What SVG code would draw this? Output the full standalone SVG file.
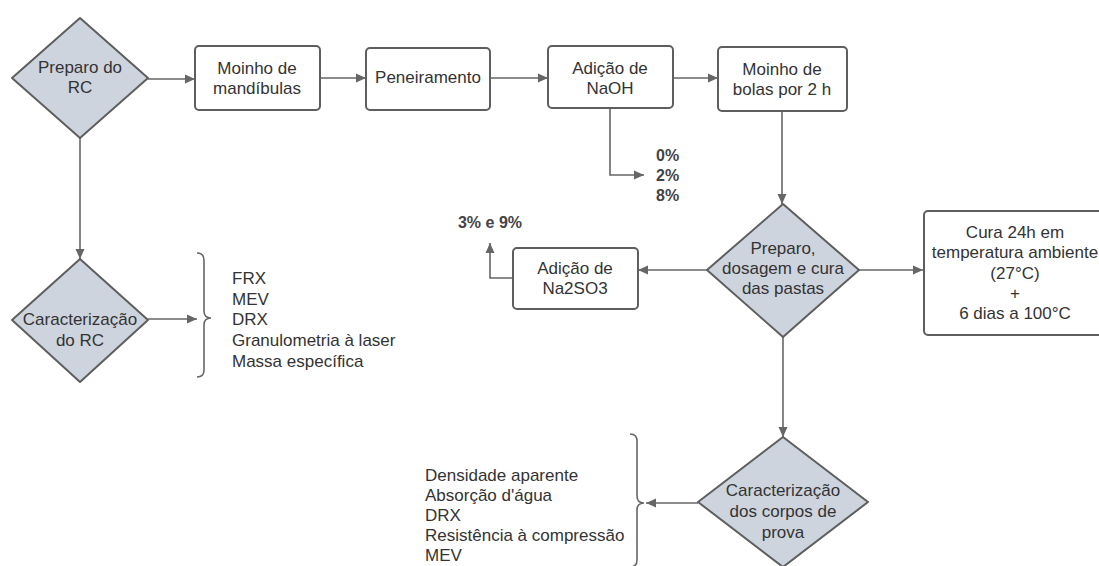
<svg xmlns="http://www.w3.org/2000/svg" width="1099" height="566" viewBox="0 0 1099 566">
<style>
.d{fill:#ced4de;stroke:#5e5e5e;stroke-width:2;stroke-linejoin:round}
.b{fill:#fff;stroke:#5e5e5e;stroke-width:2}
.t{font-family:"Liberation Sans",Arial,sans-serif;font-size:17px;fill:#333;text-anchor:middle}
.l{font-family:"Liberation Sans",Arial,sans-serif;font-size:17px;fill:#333}
.p{font-family:"Liberation Sans",Arial,sans-serif;font-size:16px;font-weight:bold;fill:#444}
.c{fill:none;stroke:#666;stroke-width:1.6}
.br{fill:none;stroke:#666;stroke-width:1.6}
</style>
<defs>
<marker id="ah" viewBox="0 0 10 10" refX="10" refY="5" markerWidth="10" markerHeight="10" markerUnits="userSpaceOnUse" orient="auto">
<path d="M0,0.5 L10,5 L0,9.5 Z" fill="#666"/>
</marker>
</defs>
<rect width="1099" height="566" fill="#fff"/>
<g id="connectors">
<path class="c" d="M148,79 L195,79" marker-end="url(#ah)"/>
<path class="c" d="M320,78 L366,78" marker-end="url(#ah)"/>
<path class="c" d="M490,78 L548,78" marker-end="url(#ah)"/>
<path class="c" d="M673,78 L718,78" marker-end="url(#ah)"/>
<path class="c" d="M610,108 L610,175 L644,175" marker-end="url(#ah)"/>
<path class="c" d="M782,111 L782,204" marker-end="url(#ah)"/>
<path class="c" d="M859,270 L923,270" marker-end="url(#ah)"/>
<path class="c" d="M707,270 L638,270" marker-end="url(#ah)"/>
<path class="c" d="M513,278 L490,278 L490,243" marker-end="url(#ah)"/>
<path class="c" d="M783,337 L783,437" marker-end="url(#ah)"/>
<path class="c" d="M698,503 L646,503" marker-end="url(#ah)"/>
<path class="c" d="M80,138 L80,259" marker-end="url(#ah)"/>
<path class="c" d="M148,319 L197,319" marker-end="url(#ah)"/>
</g>
<g id="preparo-rc">
<polygon class="d" points="80,18 148,78 80,138 12,78"/>
<text class="t" x="80" y="73">Preparo do</text>
<text class="t" x="80" y="93">RC</text>
</g>
<g id="moinho-mandibulas">
<rect class="b" x="195" y="46" width="125" height="64" rx="4"/>
<text class="t" x="257" y="74">Moinho de</text>
<text class="t" x="257" y="94">mandíbulas</text>
</g>
<g id="peneiramento">
<rect class="b" x="366" y="48" width="124" height="62" rx="4"/>
<text class="t" x="428" y="83">Peneiramento</text>
</g>
<g id="adicao-naoh">
<rect class="b" x="548" y="46" width="125" height="62" rx="4"/>
<text class="t" x="610" y="74">Adição de</text>
<text class="t" x="610" y="94">NaOH</text>
</g>
<g id="naoh-pct">
<text class="p" x="656" y="161">0%</text>
<text class="p" x="656" y="181">2%</text>
<text class="p" x="656" y="201">8%</text>
</g>
<g id="moinho-bolas">
<rect class="b" x="718" y="47" width="129" height="64" rx="4"/>
<text class="t" x="782" y="75">Moinho de</text>
<text class="t" x="782" y="95">bolas por 2 h</text>
</g>
<g id="preparo-pastas">
<polygon class="d" points="783,204 859,270 783,337 707,270"/>
<text class="t" x="783" y="254">Preparo,</text>
<text class="t" x="783" y="274">dosagem e cura</text>
<text class="t" x="783" y="294">das pastas</text>
</g>
<g id="cura">
<rect class="b" x="924" y="211" width="190" height="124" rx="4"/>
<text class="t" x="1015" y="238">Cura 24h em</text>
<text class="t" x="1015" y="258">temperatura ambiente</text>
<text class="t" x="1015" y="279">(27°C)</text>
<text class="t" x="1015" y="299">+</text>
<text class="t" x="1015" y="319">6 dias a 100°C</text>
</g>
<g id="adicao-na2so3">
<rect class="b" x="513" y="248" width="125" height="61" rx="4"/>
<text class="t" x="575" y="274">Adição de</text>
<text class="t" x="575" y="294">Na2SO3</text>
</g>
<g id="na2so3-pct">
<text class="p" x="490" y="228" text-anchor="middle">3% e 9%</text>
</g>
<g id="caracterizacao-rc">
<polygon class="d" points="80,259 148,320 80,382 12,320"/>
<text class="t" x="80" y="325">Caracterização</text>
<text class="t" x="80" y="346">do RC</text>
</g>
<g id="lista-rc">
<path class="br" d="M197,253 Q204,253 204,260 L204,311 Q204,318 211,318 Q204,318 204,325 L204,370 Q204,377 197,377"/>
<text class="l" x="232" y="284">FRX</text>
<text class="l" x="232" y="305">MEV</text>
<text class="l" x="232" y="325">DRX</text>
<text class="l" x="232" y="346">Granulometria à laser</text>
<text class="l" x="232" y="367">Massa específica</text>
</g>
<g id="caracterizacao-cp">
<polygon class="d" points="783,437 868,502 783,567 698,502"/>
<text class="t" x="783" y="496">Caracterização</text>
<text class="t" x="783" y="517">dos corpos de</text>
<text class="t" x="783" y="538">prova</text>
</g>
<g id="lista-cp">
<path class="br" d="M630,434 Q637,434 637,441 L637,496 Q637,503 644,503 Q637,503 637,510 L637,560 Q637,567 630,567"/>
<text class="l" x="425" y="481">Densidade aparente</text>
<text class="l" x="425" y="501">Absorção d'água</text>
<text class="l" x="425" y="521">DRX</text>
<text class="l" x="425" y="541">Resistência à compressão</text>
<text class="l" x="425" y="561">MEV</text>
</g>
</svg>
